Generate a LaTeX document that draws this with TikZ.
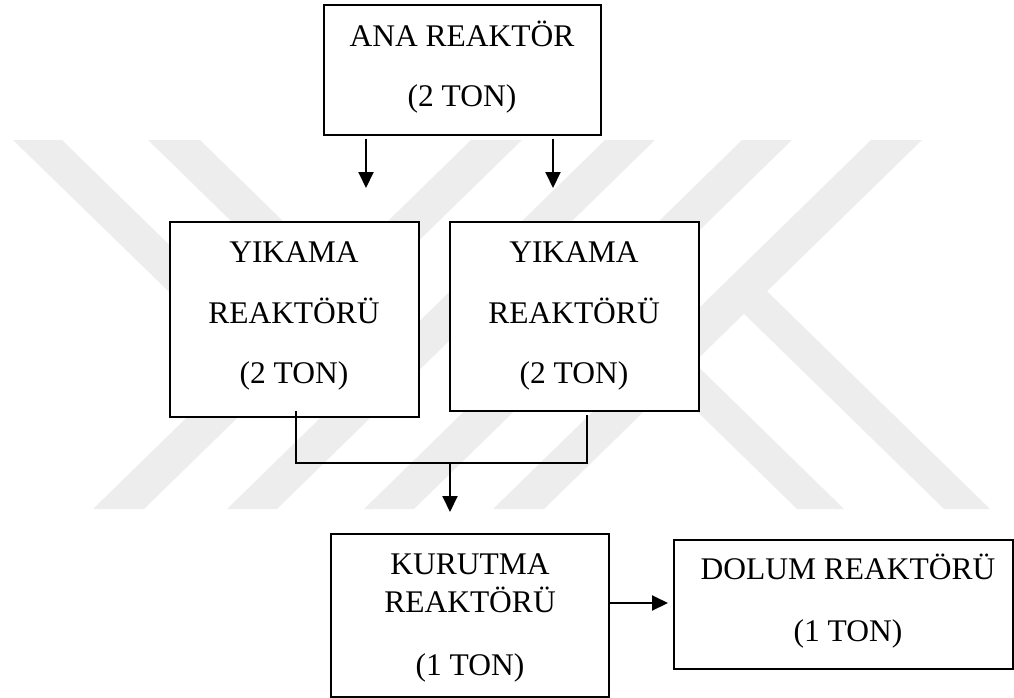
\documentclass[tikz,border=0pt]{standalone}
\usepackage{fontspec}
\setmainfont{Liberation Serif}
\usetikzlibrary{arrows.meta}

\definecolor{markgray}{RGB}{237,237,237}

\tikzset{
  reactor/.style={draw=black, line width=2pt, fill=white, rectangle, inner sep=0pt},
  lbl/.style={anchor=base, inner sep=0pt, font=\fontsize{31.5}{38}\selectfont},
  flow/.style={line width=2pt, -{Triangle[length=16pt,width=15pt]}},
  pipe/.style={line width=2pt},
  band/.style={fill=markgray}
}

\begin{document}
\begin{tikzpicture}[x=1pt, y=-1pt]
  \useasboundingbox (0,0) rectangle (1014,698);

  % faint background emblem made of diagonal stripes
  \fill[band] (93,509) -- (144,509) -- (522,140) -- (471,140) -- cycle;
  \fill[band] (227,509) -- (277,509) -- (655,140) -- (605,140) -- cycle;
  \fill[band] (364,509) -- (414,509) -- (792,140) -- (742,140) -- cycle;
  \fill[band] (493,509) -- (544,509) -- (922,140) -- (871,140) -- cycle;
  \fill[band] (13,140) -- (62,140) -- (291.6,364.3) -- (242.6,363.6) -- cycle;
  \fill[band] (148,140) -- (200,140) -- (427.4,362.1) -- (376.5,363.1) -- cycle;
  \fill[band] (797,509) -- (844,509) -- (629,299) -- (580.5,297.6) -- cycle;
  \fill[band] (944,509) -- (990,509) -- (767,291.2) -- (718.5,288.8) -- cycle;

  % reactor boxes
  \node[reactor, minimum width=277.5pt, minimum height=130pt] (ana) at (462.25,70.5) {};
  \node[reactor, minimum width=249pt, minimum height=195pt] (yl) at (294,319) {};
  \node[reactor, minimum width=249pt, minimum height=189pt] (yr) at (574,316) {};
  \node[reactor, minimum width=278pt, minimum height=163pt] (ku) at (470,615) {};
  \node[reactor, minimum width=339pt, minimum height=129.5pt] (dol) at (843,604.25) {};

  % box captions
  \node[lbl] (ana1) at (462,47) {ANA REAKTÖR};
  \node[lbl] (ana2) at (462,107) {(2 TON)};
  \node[lbl] (yl1) at (294,262) {YIKAMA};
  \node[lbl] (yl2) at (294,323) {REAKTÖRÜ};
  \node[lbl] (yl3) at (294,383) {(2 TON)};
  \node[lbl] (yr1) at (574,262) {YIKAMA};
  \node[lbl] (yr2) at (574,323) {REAKTÖRÜ};
  \node[lbl] (yr3) at (574,383) {(2 TON)};
  \node[lbl] (ku1) at (470,574) {KURUTMA};
  \node[lbl] (ku2) at (470,612) {REAKTÖRÜ};
  \node[lbl] (ku3) at (470,675) {(1 TON)};
  \node[lbl] (dol1) at (848,579) {DOLUM REAKTÖRÜ};
  \node[lbl] (dol2) at (848,641) {(1 TON)};

  % connector points
  \coordinate (tipL) at (366,188);
  \coordinate (tipR) at (553,188);
  \coordinate (outL) at (296,411);
  \coordinate (outR) at (587,415);
  \coordinate (joinL) at (296,462.5);
  \coordinate (joinR) at (587,462.5);
  \coordinate (joinM) at (450,462.5);
  \coordinate (tipK) at (450,512);
  \coordinate (tipD) at (668,603);

  % feed from the main reactor to both washing reactors
  \draw[flow] (ana.south -| tipL) ++(0,2) -- (tipL);
  \draw[flow] (ana.south -| tipR) ++(0,2) -- (tipR);

  % washing outputs merge into the dryer
  \draw[pipe] (outL) -- (joinL) -- (joinR) -- (outR);
  \draw[flow] (joinM) -- (tipK);

  % dryer to filling reactor
  \draw[flow] (ku.east |- tipD) -- (tipD);
\end{tikzpicture}
\end{document}
